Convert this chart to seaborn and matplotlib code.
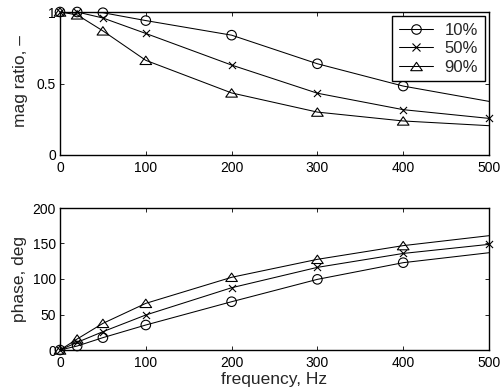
import matplotlib
matplotlib.use("Agg")
import matplotlib.pyplot as plt
from matplotlib.lines import Line2D
from matplotlib.path import Path
import seaborn as sns

sns.set_style("ticks")
plt.rcParams['font.family'] = ['Liberation Sans', 'DejaVu Sans']

series = ["10%", "50%", "90%"]
freq = [0, 20, 50, 100, 200, 300, 400, 500]
# number of measured points (with markers) per series
n_marked = {"10%": 7, "50%": 8, "90%": 7}

mag = {
    "10%": [1.0, 1.0, 0.995, 0.94, 0.838, 0.638, 0.482, 0.375],
    "50%": [1.0, 1.0, 0.958, 0.85, 0.629, 0.432, 0.317, 0.256],
    "90%": [1.0, 0.98, 0.868, 0.662, 0.434, 0.300, 0.238, 0.205],
}
phase = {
    "10%": [0, 5.6, 17.4, 35.2, 68.0, 99.5, 123.0, 137.0],
    "50%": [0, 10.8, 25.8, 49.3, 87.7, 116.4, 136.0, 148.8],
    "90%": [0, 15.5, 37.5, 65.7, 102.4, 127.7, 147.0, 161.0],
}

tri = Path([(-1, -0.72), (1, -0.72), (0, 0.72), (-1, -0.72)],
           [Path.MOVETO, Path.LINETO, Path.LINETO, Path.CLOSEPOLY])
mstyle = {"10%": ("o", 47), "50%": ("x", 26), "90%": (tri, 70)}

W, H = 501, 392
fig = plt.figure(figsize=(W / 100, H / 100), dpi=100)
ax1 = fig.add_axes([60 / W, 1 - 155 / H, 429 / W, 143 / H])
ax2 = fig.add_axes([60 / W, 1 - 350 / H, 429 / W, 142 / H])

lw = 0.75
for ax, data in [(ax1, mag), (ax2, phase)]:
    for s in series:
        sns.lineplot(x=freq, y=data[s], ax=ax, color='k', linewidth=lw, legend=False)
        m, sz = mstyle[s]
        n = n_marked[s]
        if m == 'x':
            sns.scatterplot(x=freq[:n], y=data[s][:n], ax=ax, marker='x', color='k',
                            s=sz, linewidth=0.8, legend=False, zorder=3, clip_on=False)
        else:
            sns.scatterplot(x=freq[:n], y=data[s][:n], ax=ax, marker=m, facecolors='none',
                            edgecolor='k', s=sz, linewidth=0.8, legend=False, zorder=3,
                            clip_on=False)
    ax.set_xlim(0, 500)
    ax.set_xticks([0, 100, 200, 300, 400, 500])
    ax.tick_params(direction='in', top=True, right=True, labelsize=10, length=3,
                   width=0.6, colors='k')
    ax.tick_params(axis='x', pad=4)
    ax.tick_params(axis='y', pad=3)
    for sp in ax.spines.values():
        sp.set_visible(True)
        sp.set_linewidth(1.0)
        sp.set_color('k')

ax1.set_ylim(0, 1)
ax1.set_yticks([0, 0.5, 1])
ax1.set_yticklabels(['0', '0.5', '1'])
ax1.set_ylabel('mag ratio, \u2013', fontsize=12.5)
ax1.yaxis.set_label_coords((28 - 60) / 429, 0.52)

ax2.set_ylim(0, 200)
ax2.set_yticks([0, 50, 100, 150, 200])
ax2.set_ylabel('phase, deg', fontsize=12.5)
ax2.yaxis.set_label_coords((27 - 60) / 429, 0.5)
ax2.set_xlabel('frequency, Hz', fontsize=12.5)
ax2.xaxis.set_label_coords(0.5, (350 - 372) / 142)

handles = []
for s in series:
    m, sz = mstyle[s]
    handles.append(Line2D([0], [0], color='k', lw=lw, marker=m,
                          markersize=(sz ** 0.5), markerfacecolor='none',
                          markeredgecolor='k', markeredgewidth=0.8))
leg = ax1.legend(handles, series, loc='upper right', borderaxespad=0.25, fontsize=12,
                 frameon=True, fancybox=False, handlelength=2.05, handletextpad=0.7,
                 borderpad=0.4, labelspacing=0.2)
leg.get_frame().set_edgecolor('k')
leg.get_frame().set_linewidth(1.0)
leg.get_frame().set_alpha(1)

fig.savefig('out.png', dpi=100)
